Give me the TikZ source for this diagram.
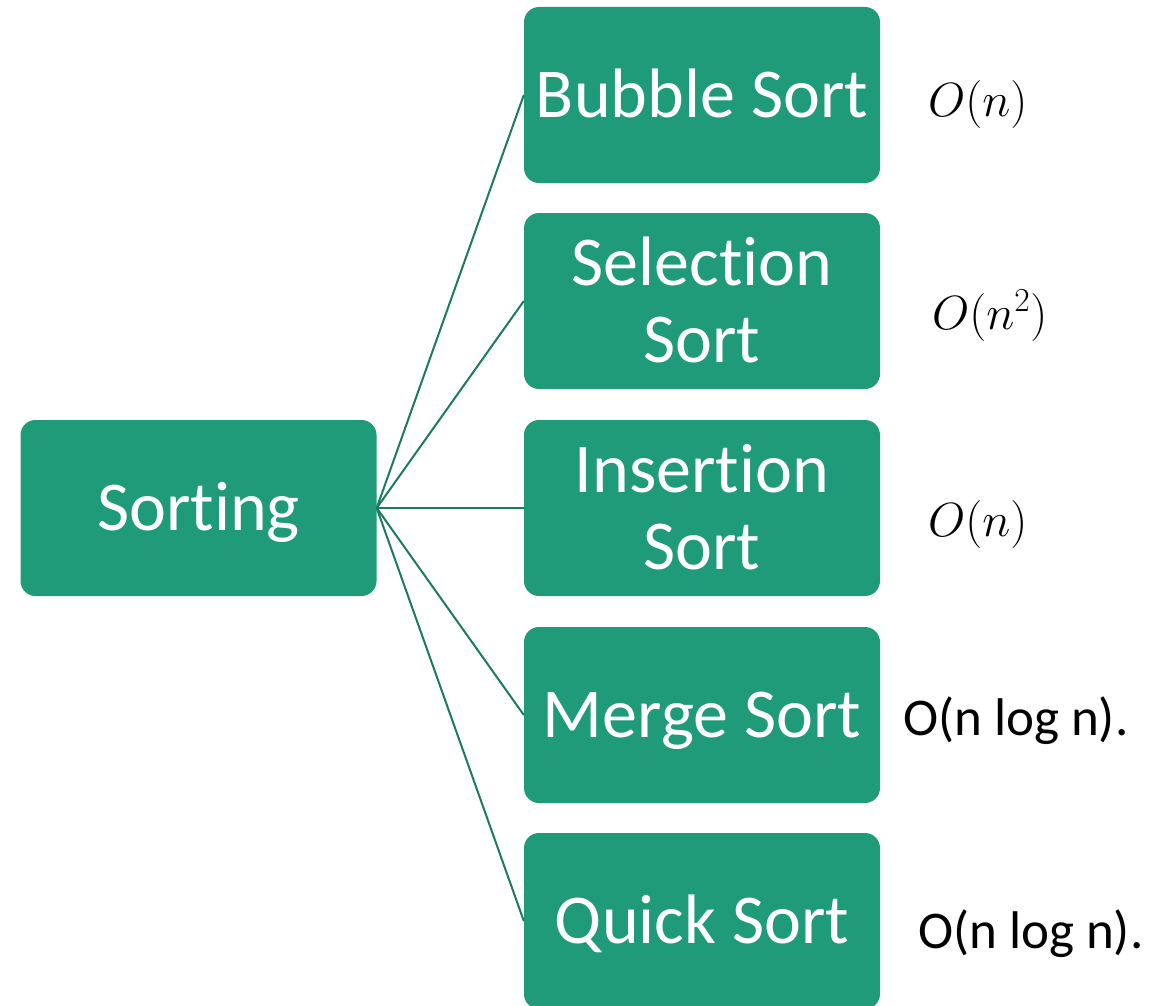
\RequirePackage{fix-cm}
\documentclass[tikz,border=0pt]{standalone}
\usepackage{fontspec}
\setmainfont{Carlito}[Ligatures={NoCommon,NoRare,NoContextual}]
\definecolor{boxgreen}{RGB}{31,155,122}
\definecolor{linkgreen}{RGB}{28,122,95}

\begin{document}
\begin{tikzpicture}[x=1pt,y=-1pt,
  sortbox/.style={fill=boxgreen, draw=none, rounded corners=15pt,
    minimum width=356pt, minimum height=176pt, inner sep=0pt},
  boxtext/.style={text=white, font=\fontsize{70}{78}\selectfont,
    inner sep=0pt, text height=45pt, text depth=0pt},
  link/.style={draw=linkgreen, line width=2pt},
  cost/.style={anchor=base west, inner sep=0pt, font=\fontsize{53}{63}\selectfont},
  mathcost/.style={anchor=base west, inner sep=0pt, font=\fontsize{48}{58}\selectfont}]
\useasboundingbox (0,0) rectangle (1170,1006);

% boxes
\node[sortbox] (root) at (198.5,508) {};
\node[sortbox] (bubble) at (702,95) {};
\node[sortbox] (selection) at (702,301) {};
\node[sortbox] (insertion) at (702,508) {};
\node[sortbox] (merge) at (702,715) {};
\node[sortbox] (quick) at (702,921) {};

% box captions
\node[boxtext] (rootT) at (root.center) {Sorting};
\node[boxtext] (bubbleT) at (bubble.center) {Bubble Sort};
\node[boxtext] (selectionT1) at ([yshift=38.5pt]selection.center) {Selection};
\node[boxtext] (selectionT2) at ([yshift=-38.5pt]selection.center) {Sort};
\node[boxtext] (insertionT1) at ([yshift=38.5pt]insertion.center) {Insertion};
\node[boxtext] (insertionT2) at ([yshift=-38.5pt]insertion.center) {Sort};
\node[boxtext] (mergeT) at (merge.center) {Merge Sort};
\node[boxtext] (quickT) at (quick.center) {Quick Sort};

% connectors
\draw[link] (root.east) -- (bubble.west);
\draw[link] (root.east) -- (selection.west);
\draw[link] (root.east) -- (insertion.west);
\draw[link] (root.east) -- (merge.west);
\draw[link] (root.east) -- (quick.west);

% complexities
\node[mathcost] (bubbleC) at (928,117) {$O(n)$};
\node[mathcost] (selectionC) at (932,329) {$O(n^2)$};
\node[mathcost] (insertionC) at (928,536) {$O(n)$};
\node[cost] (mergeC) at (903,735) {O(n log n).};
\node[cost] (quickC) at (918,948) {O(n log n).};
\end{tikzpicture}
\end{document}
